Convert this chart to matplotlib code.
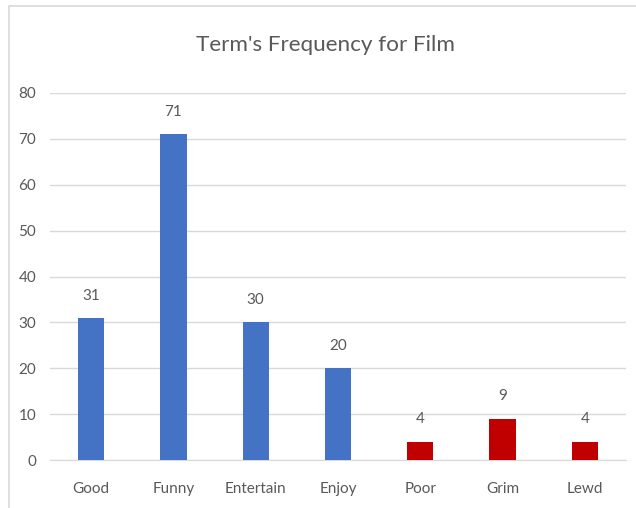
import matplotlib
matplotlib.use("Agg")
import matplotlib.pyplot as plt
from matplotlib.patches import Rectangle

categories = ["Good", "Funny", "Entertain", "Enjoy", "Poor", "Grim", "Lewd"]
values = [31, 71, 30, 20, 4, 9, 4]
colors = ["#4472C4", "#4472C4", "#4472C4", "#4472C4", "#C00000", "#C00000", "#C00000"]
yticks = [0, 10, 20, 30, 40, 50, 60, 70, 80]

plt.rcParams['font.family'] = ['Lato', 'DejaVu Sans']
txt = "#595959"

fig = plt.figure(figsize=(6.36, 5.08), dpi=100)
W, H = 636, 508
# border
fig.patches.append(Rectangle((9 / W, -0.1), 1.2, 1.1 - 6 / H, transform=fig.transFigure,
                             fill=False, edgecolor="#D9D9D9", linewidth=1.2))

left, right, top, bottom = 50, 626, 93, 460
ax = fig.add_axes([left / W, 1 - bottom / H, (right - left) / W, (bottom - top) / H])
x = range(len(categories))
bars = ax.bar(x, values, width=0.32, color=colors, zorder=3)
for xi, v in zip(x, values):
    ax.annotate(str(v), (xi, v), xytext=(0, 11), textcoords="offset points",
                ha="center", va="bottom", fontsize=11, color=txt)

ax.set_xlim(-0.5, len(categories) - 0.5)
ax.set_ylim(0, 80)
ax.set_yticks(yticks)
ax.set_xticks(list(x))
ax.set_xticklabels(categories)
ax.tick_params(axis="both", length=0, colors=txt, labelsize=11)
ax.tick_params(axis="x", pad=15.5)
ax.tick_params(axis="y", pad=10)
ax.grid(axis="y", color="#D9D9D9", linewidth=1, zorder=0)
for s in ["top", "right", "left"]:
    ax.spines[s].set_visible(False)
ax.spines["bottom"].set_color("#D9D9D9")
ax.set_facecolor("none")

fig.text(326 / W, 1 - 45 / H, "Term's Frequency for Film", ha="center", va="center",
         fontsize=16.2, color=txt)

fig.savefig("out.png", dpi=100)
